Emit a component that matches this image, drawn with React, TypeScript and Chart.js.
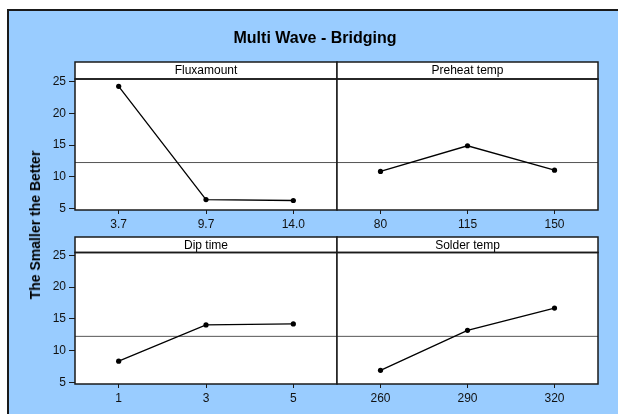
import React, { useEffect, useRef } from "react";
import { Chart, registerables } from "chart.js";

Chart.register(...registerables);

// ---- data ----
const TITLE = "Multi Wave - Bridging";
const Y_LABEL = "The Smaller the Better";
const FACTOR_NAMES = ["Fluxamount", "Preheat temp", "Dip time", "Solder temp"];
const FLUX_LEVELS = ["3.7", "9.7", "14.0"];
const FLUX_MEANS = [24.3, 6.4, 6.25];
const PREHEAT_LEVELS = ["80", "115", "150"];
const PREHEAT_MEANS = [10.85, 14.9, 11.05];
const DIP_LEVELS = ["1", "3", "5"];
const DIP_MEANS = [8.35, 14.05, 14.2];
const SOLDER_LEVELS = ["260", "290", "320"];
const SOLDER_MEANS = [6.9, 13.2, 16.7];
const GRAND_MEAN = 12.25;
const Y_TICKS = [5, 10, 15, 20, 25];
const Y_MIN = 4.75;
const Y_MAX = 25.45;

const PANELS = [
  { name: FACTOR_NAMES[0], levels: FLUX_LEVELS, means: FLUX_MEANS },
  { name: FACTOR_NAMES[1], levels: PREHEAT_LEVELS, means: PREHEAT_MEANS },
  { name: FACTOR_NAMES[2], levels: DIP_LEVELS, means: DIP_MEANS },
  { name: FACTOR_NAMES[3], levels: SOLDER_LEVELS, means: SOLDER_MEANS },
];

// ---- layout ----
const W = 618;
const H = 414;
const COLS = [
  [75, 337],
  [337, 598],
];
const ROWS = [
  { strip: 62, top: 79, bottom: 210 },
  { strip: 237, top: 252.5, bottom: 384 },
];
const Y_AXIS_W = 30;
const X_AXIS_H = 24;
const FONT = 'Arial, "Liberation Sans", sans-serif';
const DARK = "#1a1a1a";

function makeDecor(label: string, stripTop: number) {
  return {
    id: "panelDecor",
    beforeDraw(chart: any) {
      const { ctx, chartArea: a } = chart;
      ctx.save();
      ctx.fillStyle = "#ffffff";
      ctx.fillRect(a.left, a.top, a.right - a.left, a.bottom - a.top);
      ctx.restore();
    },
    beforeDatasetsDraw(chart: any) {
      const { ctx, chartArea: a, scales } = chart;
      const y = scales.y.getPixelForValue(GRAND_MEAN);
      ctx.save();
      ctx.strokeStyle = "#555555";
      ctx.lineWidth = 1;
      ctx.beginPath();
      ctx.moveTo(a.left, y);
      ctx.lineTo(a.right, y);
      ctx.stroke();
      ctx.restore();
    },
    afterDraw(chart: any) {
      const { ctx, chartArea: a } = chart;
      ctx.save();
      // strip
      ctx.fillStyle = "#ffffff";
      ctx.fillRect(a.left, stripTop, a.right - a.left, a.top - stripTop);
      ctx.strokeStyle = DARK;
      ctx.lineWidth = 1.5;
      ctx.strokeRect(a.left, stripTop, a.right - a.left, a.top - stripTop);
      ctx.fillStyle = "#000000";
      ctx.font = `12px ${FONT}`;
      ctx.textAlign = "center";
      ctx.textBaseline = "middle";
      ctx.fillText(label, (a.left + a.right) / 2, (stripTop + a.top) / 2 + 0.5);
      // frame
      ctx.strokeRect(a.left, a.top, a.right - a.left, a.bottom - a.top);
      ctx.restore();
    },
  };
}

function makeConfig(p: any, i: number): any {
  const r = Math.floor(i / 2);
  const c = i % 2;
  const row = ROWS[r];
  const col = COLS[c];
  const tickFont = { family: FONT, size: 12 };
  const yScale: any =
    c === 0
      ? {
          min: Y_MIN,
          max: Y_MAX,
          afterBuildTicks: (s: any) => {
            s.ticks = Y_TICKS.map((v) => ({ value: v }));
          },
          afterFit: (s: any) => {
            s.width = Y_AXIS_W;
          },
          grid: { drawOnChartArea: false, drawTicks: true, tickLength: 6, color: DARK, lineWidth: 1 },
          border: { display: false },
          ticks: { color: "#111", font: tickFont, padding: 3 },
        }
      : { display: false, min: Y_MIN, max: Y_MAX };
  return {
    type: "line",
    data: {
      labels: p.levels,
      datasets: [
        {
          data: p.means,
          borderColor: "#000",
          borderWidth: 1.3,
          pointRadius: 2.6,
          pointBackgroundColor: "#000",
          pointBorderWidth: 0,
          tension: 0,
          fill: false,
        },
      ],
    },
    options: {
      responsive: false,
      animation: false,
      devicePixelRatio: 1,
      layout: {
        padding: {
          left: c === 0 ? col[0] - Y_AXIS_W : col[0],
          right: W - col[1],
          top: row.top,
          bottom: H - row.bottom - X_AXIS_H,
        },
      },
      plugins: { legend: { display: false }, tooltip: { enabled: false }, title: { display: false } },
      scales: {
        x: {
          type: "category",
          offset: true,
          afterFit: (s: any) => {
            s.height = X_AXIS_H;
          },
          grid: { drawOnChartArea: false, drawTicks: true, tickLength: 4, color: DARK, lineWidth: 1 },
          border: { display: false },
          ticks: { color: "#111", font: tickFont, padding: 3, maxRotation: 0, autoSkip: false },
        },
        y: yScale,
      },
    },
    plugins: [makeDecor(p.name, row.strip)],
  };
}

export default function App() {
  const r0 = useRef<HTMLCanvasElement>(null);
  const r1 = useRef<HTMLCanvasElement>(null);
  const r2 = useRef<HTMLCanvasElement>(null);
  const r3 = useRef<HTMLCanvasElement>(null);
  const refs = [r0, r1, r2, r3];

  useEffect(() => {
    const charts = PANELS.map((p, i) => new Chart(refs[i].current as HTMLCanvasElement, makeConfig(p, i)));
    return () => charts.forEach((ch) => ch.destroy());
  }, []);

  return (
    <div style={{ position: "fixed", left: 0, top: 0, width: W, height: H, background: "#ffffff", overflow: "hidden" }}>
      <div
        style={{
          position: "absolute",
          left: 7,
          top: 9,
          right: -10,
          bottom: -10,
          background: "#99ccff",
          borderLeft: `2px solid ${DARK}`,
          borderTop: `2px solid ${DARK}`,
        }}
      />
      {refs.map((ref, i) => (
        <canvas
          key={i}
          ref={ref}
          width={W}
          height={H}
          style={{ position: "absolute", left: 0, top: 0, width: W, height: H }}
        />
      ))}
      <div
        style={{
          position: "absolute",
          left: 0,
          width: 630,
          top: 29,
          lineHeight: "20px",
          textAlign: "center",
          font: `bold 16px ${FONT}`,
          color: "#000",
        }}
      >
        {TITLE}
      </div>
      <div
        style={{
          position: "absolute",
          left: 35,
          top: 225,
          transform: "translate(-50%, -50%) rotate(-90deg)",
          whiteSpace: "nowrap",
          font: `bold 14px ${FONT}`,
          color: "#000",
        }}
      >
        {Y_LABEL}
      </div>
    </div>
  );
}
